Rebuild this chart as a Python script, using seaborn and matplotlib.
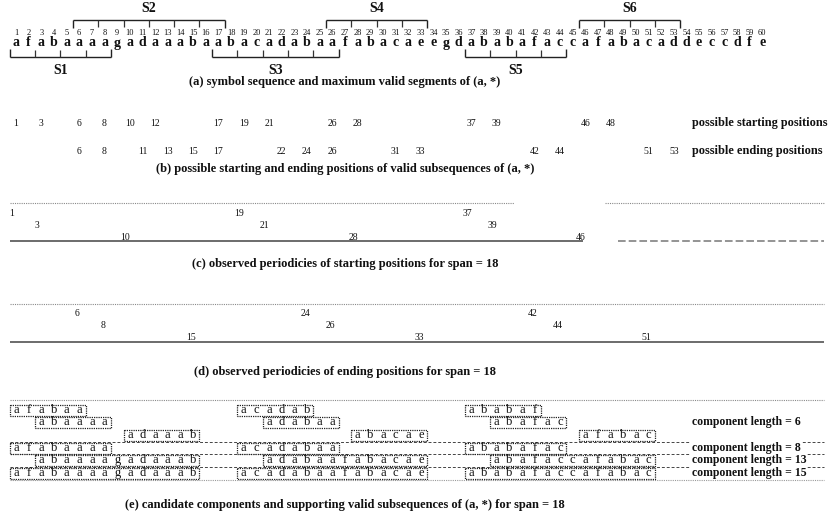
import matplotlib
matplotlib.use("Agg")
import matplotlib.pyplot as plt
from matplotlib.patches import Rectangle
import seaborn as sns

# ---- data -----------------------------------------------------------------
# symbol sequence, one symbol per position 1..60
symbols = list("afabaaaagadaaabaabacadabaafabacaeegdababafaccafabacaddeccdfe")
positions = list(range(1, len(symbols) + 1))

# maximum valid segments of (a, *)
seg_names = ["S1", "S2", "S3", "S4", "S5", "S6"]
seg_first = [1, 6, 17, 26, 37, 46]
seg_last = [8, 17, 26, 33, 44, 53]
seg_side = ["below", "above", "below", "above", "below", "above"]

# possible starting / ending positions of valid subsequences
start_positions = [1, 3, 6, 8, 10, 12, 17, 19, 21, 26, 28, 37, 39, 46, 48]
end_positions = [6, 8, 11, 13, 15, 17, 22, 24, 26, 31, 33, 42, 44, 51, 53]

# observed periodicities for span = 18
span = 18
start_chains = [[1, 19, 37], [3, 21, 39], [10, 28, 46]]
end_chains = [[6, 24, 42], [8, 26, 44], [15, 33, 51]]

# candidate components and their supporting subsequences
comp_lengths = [6, 6, 6, 8, 13, 15]
comp_starts = [[1, 19, 37], [3, 21, 39], [10, 28, 46],
               [1, 19, 37], [3, 21, 39], [1, 19, 37]]
comp_label_rows = {6: 1, 8: 3, 13: 4, 15: 5}

captions = [
    "(a) symbol sequence and maximum valid segments of (a, *)",
    "(b) possible starting and ending positions of valid subsequences of (a, *)",
    "(c) observed periodicies of starting positions for span = 18",
    "(d) observed periodicies of ending positions for span = 18",
    "(e) candidate components and supporting valid subsequences of (a, *) for span = 18",
]

# ---- style ----------------------------------------------------------------
sns.set_theme(style="white")
plt.rcParams["font.family"] = ["Liberation Serif", "DejaVu Serif"]
INK = "#111111"

W, H = 831, 521
fig = plt.figure(figsize=(W / 100, H / 100), dpi=100)
ax = fig.add_axes([0, 0, 1, 1])
STEP = 12.65          # horizontal pixels per sequence position
X0 = 16               # pixel column of position 1
ax.set_xlim(1 - X0 / STEP, 1 + (W - X0) / STEP)
ax.set_ylim(H, 0)     # vertical layout measured downward
ax.axis("off")

X_LEFT, X_RIGHT = 0.5, 64.9
X_CAPTION = 27.0
X_SIDE = 54.4

# ---- (a) sequence and segments -------------------------------------------
Y_NUM, Y_SYM = 33, 43
for p, s in zip(positions, symbols):
    ax.text(p, Y_NUM, str(p), ha="center", va="center", fontsize=6, color=INK)
    ax.text(p, Y_SYM, s, ha="center", va="center", fontsize=10,
            fontweight="bold", color=INK)

for name, a, b, side in zip(seg_names, seg_first, seg_last, seg_side):
    left, right = a - 0.5, b + 0.5
    inner = [a + 1.5 + 2 * k for k in range((b - a + 1) // 2 - 1)]
    if side == "above":
        y_bar, y_end, y_in, y_lab = 20, 28, 27, 9
    else:
        y_bar, y_end, y_in, y_lab = 57, 49, 50, 71
    ax.hlines(y_bar, left, right, color="#222222", lw=1.0)
    ax.vlines([left, right], y_bar, y_end, color="#222222", lw=1.0)
    ax.vlines(inner, y_bar, y_in, color="#333333", lw=0.9)
    ax.text((left + right) / 2, y_lab, name, ha="center", va="center",
            fontsize=10, fontweight="bold", color=INK)

ax.text(X_CAPTION, 82, captions[0], ha="center", va="center",
        fontsize=9, fontweight="bold", color=INK)

# ---- (b) starting / ending positions --------------------------------------
for p in start_positions:
    ax.text(p, 123, str(p), ha="center", va="center", fontsize=7, color=INK)
for p in end_positions:
    ax.text(p, 151, str(p), ha="center", va="center", fontsize=7, color=INK)
ax.text(X_SIDE, 123, "possible starting positions", ha="left", va="center",
        fontsize=8.8, fontweight="bold", color=INK)
ax.text(X_SIDE, 151, "possible ending positions", ha="left", va="center",
        fontsize=8.8, fontweight="bold", color=INK)
ax.text(X_CAPTION, 169, captions[1], ha="center", va="center",
        fontsize=9, fontweight="bold", color=INK)

# ---- (c) / (d) periodicities ----------------------------------------------
DOT = (0, (1, 1))


def periodicity_block(chains, rows, y_top, y_bottom, shift, gaps):
    for chain, y in zip(chains, rows):
        for p in chain:
            ax.text(p + shift, y, str(p), ha="center", va="center",
                    fontsize=7, color=INK, zorder=3)
    for x_a, x_b in gaps["top"]:
        ax.hlines(y_top, x_a, x_b, color="#8a8a8a", lw=0.8, linestyles=DOT)
    for x_a, x_b, style, col in gaps["bottom"]:
        ax.hlines(y_bottom, x_a, x_b, color=col, lw=1.1,
                  linestyles=style, zorder=2)


periodicity_block(start_chains, [213, 226, 238], 203, 241, -0.35,
                  {"top": [(X_LEFT, 40.4), (47.6, X_RIGHT)],
                   "bottom": [(X_LEFT, 45.8, "solid", "#444444"),
                              (48.6, X_RIGHT, (0, (5, 2)), "#777777")]})
ax.text(X_CAPTION, 264, captions[2], ha="center", va="center",
        fontsize=9, fontweight="bold", color=INK)

periodicity_block(end_chains, [314, 326, 338], 304, 342, -0.15,
                  {"top": [(X_LEFT, X_RIGHT)],
                   "bottom": [(X_LEFT, X_RIGHT, "solid", "#444444")]})
ax.text(X_CAPTION, 372, captions[3], ha="center", va="center",
        fontsize=9, fontweight="bold", color=INK)

# ---- (e) candidate components ---------------------------------------------
row_y = [410, 422, 435, 448, 460, 473]
ax.hlines(400, X_LEFT, X_RIGHT, color="#8a8a8a", lw=0.8, linestyles=DOT)
for y in [441.5, 454, 466.5]:
    ax.hlines(y, X_LEFT, X_RIGHT, color="#444444", lw=0.7,
              linestyles=(0, (3, 2)), zorder=1)
ax.hlines(479.5, X_LEFT, X_RIGHT, color="#9a9a9a", lw=0.8, linestyles=DOT)

BOX_H = 11
for length, starts, y in zip(comp_lengths, comp_starts, row_y):
    for st in starts:
        ax.add_patch(Rectangle((st - 0.5, y - BOX_H / 2), length, BOX_H,
                               facecolor="white", edgecolor="#222222",
                               lw=0.9, linestyle=(0, (1, 0.8)), zorder=2))
        for k in range(length):
            ax.text(st + k, y, symbols[st + k - 1], ha="center", va="center",
                    fontsize=9, color=INK, zorder=3)

for length, r in comp_label_rows.items():
    ax.text(X_SIDE, row_y[r], f"component length = {length}", ha="left",
            va="center", fontsize=8.5, fontweight="bold", color=INK, zorder=3,
            bbox=dict(facecolor="white", edgecolor="none", pad=0.3))

ax.text(X_CAPTION, 505, captions[4], ha="center", va="center",
        fontsize=9, fontweight="bold", color=INK)

fig.savefig("out.png", dpi=100, facecolor="white")
